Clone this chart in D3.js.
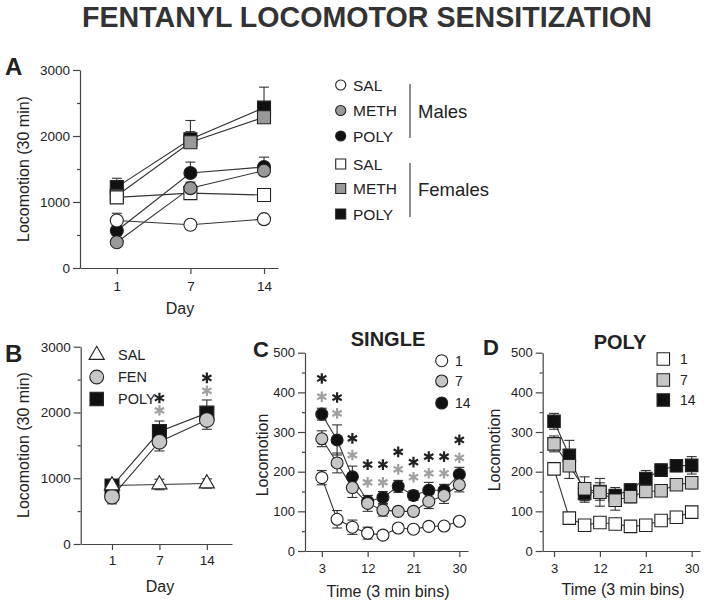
<!DOCTYPE html>
<html>
<head>
<meta charset="utf-8">
<script src="https://cdn.jsdelivr.net/npm/d3@7"></script>
<style>
  body { margin: 0; background: #fff; }
  svg text { font-family: "Liberation Sans", Arial, sans-serif; fill: #222; }
</style>
</head>
<body>
<div id="chart"></div>
<script>
// ---- data ----
var days = [1, 7, 14];
var bins = [3, 6, 9, 12, 15, 18, 21, 24, 27, 30];

// A - males (circles), females (squares)
var maleSal = [720, 655, 740],      maleSalErr = [110, 40, 50];
var maleMeth = [390, 1210, 1475],   maleMethErr = [60, 90, 80];
var malePoly = [565, 1440, 1530],   malePolyErr = [70, 165, 150];
var femSal = [1070, 1135, 1105],    femSalErr = [60, 60, 50];
var femMeth = [1095, 1905, 2285],   femMethErr = [80, 160, 100];
var femPoly = [1225, 1950, 2430],   femPolyErr = [135, 285, 310];

// B
var bSal = [890, 905, 920],   bSalErr = [70, 80, 70];
var bFen = [720, 1555, 1885], bFenErr = [110, 140, 140];
var bPoly = [880, 1710, 1990], bPolyErr = [90, 160, 200];
var bStarDays = [7, 14];
var bStarBlack = [2220, 2525];
var bStarGray = [2030, 2330];

// C - SINGLE
var c1 = [185, 80, 60, 45, 40, 58, 55, 62, 63, 75];
var c1Err = [18, 22, 18, 15, 10, 8, 8, 8, 8, 8];
var c7 = [283, 222, 160, 120, 103, 100, 100, 125, 140, 167];
var c7Err = [20, 25, 25, 20, 15, 10, 10, 18, 20, 18];
var c14 = [345, 280, 187, 125, 135, 163, 140, 153, 153, 193];
var c14Err = [15, 38, 27, 15, 15, 15, 12, 20, 15, 18];
var cStarBlack = [435, 387, 284, 218, 218, 250, 224, 238, 238, 280];
var cStarGray = [389, 347, 242, 173, 173, 206, 186, 196, 196, 235];

// D - POLY
var d1 = [207, 83, 65, 72, 68, 62, 65, 77, 85, 98];
var d1Err = [10, 10, 8, 8, 8, 8, 8, 8, 8, 8];
var d7 = [270, 215, 157, 148, 128, 137, 150, 152, 167, 172];
var d7Err = [20, 32, 30, 35, 25, 15, 15, 12, 12, 15];
var d14 = [327, 241, 145, 150, 140, 154, 183, 204, 215, 216];
var d14Err = [20, 38, 22, 22, 20, 15, 20, 15, 15, 22];

var darkGray = "#999999", lightGray = "#c6c6c6", black = "#111111";

var svg = d3.select("#chart").append("svg")
    .attr("width", 709)
    .attr("height", 607);

function symbolPath(type, size) {
    var t = type === "circle" ? d3.symbolCircle : (type === "square" ? d3.symbolSquare : d3.symbolTriangle);
    return d3.symbol().type(t).size(size)();
}

function drawAxes(x, y, o) {
    var g = svg.append("g").attr("class", "axes");
    g.append("g")
        .attr("transform", "translate(0," + y.range()[0] + ")")
        .call(d3.axisBottom(x).tickValues(o.xTicks).tickFormat(o.xFormat)
            .tickSize(6).tickSizeOuter(0).tickPadding(o.xPad));
    g.append("g")
        .attr("transform", "translate(" + x.range()[0] + ",0)")
        .call(d3.axisLeft(y).tickValues(o.yMajor).tickFormat(d3.format("d"))
            .tickSize(7).tickSizeOuter(0).tickPadding(3));
    g.append("g")
        .attr("transform", "translate(" + x.range()[0] + ",0)")
        .call(d3.axisLeft(y).tickValues(o.yMinor).tickSize(3).tickFormat(""))
        .select(".domain").remove();
    g.selectAll(".domain, .tick line").attr("stroke", "#444").attr("stroke-width", 1.2);
    g.selectAll("g").attr("font-size", o.fs).attr("font-family", null);
}

function drawSeries(g, x, y, xs, vals) {
    var line = d3.line()
        .x(function(d, i) { return x(xs[i]); })
        .y(function(d) { return y(d); });
    g.append("path")
        .datum(vals)
        .attr("fill", "none")
        .attr("stroke", "#333")
        .attr("stroke-width", 1.1)
        .attr("d", line);
}

function drawErrors(g, x, y, xs, vals, errs, dir) {
    var cap = 5;
    vals.forEach(function(v, i) {
        var cx = x(xs[i]);
        var top = dir === "down" ? v : v + errs[i];
        var bot = dir === "up" ? v : v - errs[i];
        g.append("line").attr("x1", cx).attr("x2", cx).attr("y1", y(top)).attr("y2", y(bot))
            .attr("stroke", "#333").attr("stroke-width", 1.1);
        if (dir !== "down")
            g.append("line").attr("x1", cx - cap).attr("x2", cx + cap).attr("y1", y(top)).attr("y2", y(top))
                .attr("stroke", "#333").attr("stroke-width", 1.1);
        if (dir !== "up")
            g.append("line").attr("x1", cx - cap).attr("x2", cx + cap).attr("y1", y(bot)).attr("y2", y(bot))
                .attr("stroke", "#333").attr("stroke-width", 1.1);
    });
}

function drawMarkers(g, x, y, xs, vals, st) {
    g.selectAll(null)
        .data(vals)
        .enter().append("path")
        .attr("transform", function(d, i) { return "translate(" + x(xs[i]) + "," + y(d) + ")"; })
        .attr("d", symbolPath(st.shape, st.size))
        .attr("fill", st.fill)
        .attr("stroke", "#222")
        .attr("stroke-width", 1.1);
}

function drawPlot(x, y, xs, list) {
    var g = svg.append("g");
    list.forEach(function(s) { drawSeries(g, x, y, xs, s.vals); });
    list.forEach(function(s) { drawErrors(g, x, y, xs, s.vals, s.errs, s.dir); });
    list.forEach(function(s) { drawMarkers(g, x, y, xs, s.vals, s); });
}

function drawStars(x, y, xs, vals, color) {
    svg.append("g").selectAll(null)
        .data(vals)
        .enter().append("path")
        .attr("transform", function(d, i) { return "translate(" + x(xs[i]) + "," + y(d) + ")"; })
        .attr("d", d3.symbol().type(d3.symbolAsterisk).size(80)())
        .attr("fill", "none")
        .attr("stroke", color)
        .attr("stroke-width", 2.2);
}

function label(txt, x, y, size, opts) {
    opts = opts || {};
    var t = svg.append("text")
        .attr("x", x).attr("y", y)
        .attr("font-size", size)
        .attr("text-anchor", opts.anchor || "start")
        .attr("font-weight", opts.bold ? "bold" : "normal")
        .text(txt);
    if (opts.rotate) t.attr("transform", "rotate(-90," + x + "," + y + ")");
    if (opts.dy) t.attr("dy", opts.dy);
    return t;
}

function legendItem(x, y, shape, size, fill, txt, tx, fs) {
    svg.append("path")
        .attr("transform", "translate(" + x + "," + y + ")")
        .attr("d", symbolPath(shape, size))
        .attr("fill", fill)
        .attr("stroke", "#222")
        .attr("stroke-width", 1.1);
    label(txt, tx, y, fs, { dy: "0.36em" });
}

// ---- title ----
label("FENTANYL LOCOMOTOR SENSITIZATION", 367, 27, 29, { anchor: "middle", bold: true })
    .attr("textLength", 570).attr("lengthAdjust", "spacingAndGlyphs").style("fill", "#333");

// ---- panel A ----
var idx = [0, 1, 2];
var xA = d3.scaleLinear().domain([-0.5, 2.19]).range([80, 278]);
var yA = d3.scaleLinear().domain([0, 3000]).range([268, 70]);
drawAxes(xA, yA, { xTicks: idx, xFormat: function(i) { return days[i]; }, xPad: 7,
    yMajor: [0, 1000, 2000, 3000], yMinor: [500, 1500, 2500], fs: 13.5 });
drawPlot(xA, yA, idx, [
    { vals: femPoly, errs: femPolyErr, dir: "up", shape: "square", size: 169, fill: black },
    { vals: femMeth, errs: femMethErr, dir: "up", shape: "square", size: 169, fill: darkGray },
    { vals: femSal, errs: femSalErr, dir: "up", shape: "square", size: 169, fill: "#fff" },
    { vals: malePoly, errs: malePolyErr, dir: "up", shape: "circle", size: 133, fill: black },
    { vals: maleMeth, errs: maleMethErr, dir: "up", shape: "circle", size: 133, fill: darkGray },
    { vals: maleSal, errs: maleSalErr, dir: "up", shape: "circle", size: 133, fill: "#fff" }
]);
label("A", 5, 75, 24, { bold: true });
label("Locomotion (30 min)", 29, 169, 16, { anchor: "middle", rotate: true });
label("Day", 180, 314, 16, { anchor: "middle" });

// legend A
var legA = [
    ["circle", "#fff", "SAL"], ["circle", darkGray, "METH"], ["circle", black, "POLY"],
    ["square", "#fff", "SAL"], ["square", darkGray, "METH"], ["square", black, "POLY"]
];
var legAy = [85, 110.5, 136, 164, 188.5, 214];
legA.forEach(function(d, i) {
    legendItem(340.7, legAy[i], d[0], d[0] === "circle" ? 80 : 100, d[1], d[2], 353, 15.5);
});
svg.append("line").attr("x1", 410).attr("x2", 410).attr("y1", 84).attr("y2", 138).attr("stroke", "#444").attr("stroke-width", 1.2);
svg.append("line").attr("x1", 410).attr("x2", 410).attr("y1", 163).attr("y2", 217).attr("stroke", "#444").attr("stroke-width", 1.2);
label("Males", 418, 111, 18.5, { dy: "0.36em" });
label("Females", 418, 189, 18.5, { dy: "0.36em" });

// ---- panel B ----
var xB = d3.scaleLinear().domain([-0.66, 2.53]).range([80.7, 232]);
var yB = d3.scaleLinear().domain([0, 3000]).range([544, 346.7]);
drawAxes(xB, yB, { xTicks: idx, xFormat: function(i) { return days[i]; }, xPad: 5,
    yMajor: [0, 1000, 2000, 3000], yMinor: [500, 1500, 2500], fs: 13.5 });
drawPlot(xB, yB, idx, [
    { vals: bPoly, errs: bPolyErr, dir: "up", shape: "square", size: 196, fill: black },
    { vals: bFen, errs: bFenErr, dir: "down", shape: "circle", size: 170, fill: lightGray },
    { vals: bSal, errs: bSalErr, dir: "both", shape: "triangle", size: 100, fill: "#fff" }
]);
var starIdxB = bStarDays.map(function(d) { return days.indexOf(d); });
drawStars(xB, yB, starIdxB, bStarBlack, "#222");
drawStars(xB, yB, starIdxB, bStarGray, "#a0a0a0");
label("B", 5, 362, 24, { bold: true });
label("Locomotion (30 min)", 29, 445, 16, { anchor: "middle", rotate: true });
label("Day", 160, 592, 16, { anchor: "middle" });
legendItem(96.7, 355, "triangle", 100, "#fff", "SAL", 118, 14.5);
legendItem(96.7, 377, "circle", 150, lightGray, "FEN", 118, 14.5);
legendItem(96.7, 399, "square", 180, black, "POLY", 118, 14.5);

// ---- panel C ----
var xC = d3.scaleLinear().domain([-0.3, 31.7]).range([305, 468]);
var yC = d3.scaleLinear().domain([0, 500]).range([551, 352.7]);
drawAxes(xC, yC, { xTicks: [3, 12, 21, 30], xFormat: d3.format("d"), xPad: 7,
    yMajor: [0, 100, 200, 300, 400, 500], yMinor: [50, 150, 250, 350, 450], fs: 13 });
drawPlot(xC, yC, bins, [
    { vals: c14, errs: c14Err, dir: "both", shape: "circle", size: 113, fill: black },
    { vals: c7, errs: c7Err, dir: "both", shape: "circle", size: 113, fill: lightGray },
    { vals: c1, errs: c1Err, dir: "both", shape: "circle", size: 113, fill: "#fff" }
]);
drawStars(xC, yC, bins, cStarBlack, "#222");
drawStars(xC, yC, bins, cStarGray, "#a0a0a0");
label("C", 253, 357, 22, { bold: true });
label("SINGLE", 388, 346, 20, { anchor: "middle", bold: true });
label("Locomotion", 268, 455, 16, { anchor: "middle", rotate: true });
label("Time (3 min bins)", 388, 597, 16, { anchor: "middle" });
legendItem(441.7, 360.7, "circle", 113, "#fff", "1", 455, 14);
legendItem(441.7, 381, "circle", 113, lightGray, "7", 455, 14);
legendItem(441.7, 403, "circle", 113, black, "14", 455, 14);

// ---- panel D ----
var xD = d3.scaleLinear().domain([0.78, 31.63]).range([542.7, 700]);
var yD = d3.scaleLinear().domain([0, 500]).range([551, 352.7]);
drawAxes(xD, yD, { xTicks: [3, 12, 21, 30], xFormat: d3.format("d"), xPad: 7,
    yMajor: [0, 100, 200, 300, 400, 500], yMinor: [50, 150, 250, 350, 450], fs: 13 });
drawPlot(xD, yD, bins, [
    { vals: d14, errs: d14Err, dir: "both", shape: "square", size: 156, fill: black },
    { vals: d7, errs: d7Err, dir: "both", shape: "square", size: 156, fill: lightGray },
    { vals: d1, errs: d1Err, dir: "both", shape: "square", size: 156, fill: "#fff" }
]);
label("D", 483, 355, 22, { bold: true });
label("POLY", 620, 349, 20, { anchor: "middle", bold: true });
label("Locomotion", 500, 450, 16, { anchor: "middle", rotate: true });
label("Time (3 min bins)", 623, 595, 16, { anchor: "middle" });
legendItem(663.3, 359, "square", 156, "#fff", "1", 680, 14);
legendItem(663.3, 380, "square", 156, lightGray, "7", 680, 14);
legendItem(663.3, 400, "square", 156, black, "14", 680, 14);
</script>
</body>
</html>
